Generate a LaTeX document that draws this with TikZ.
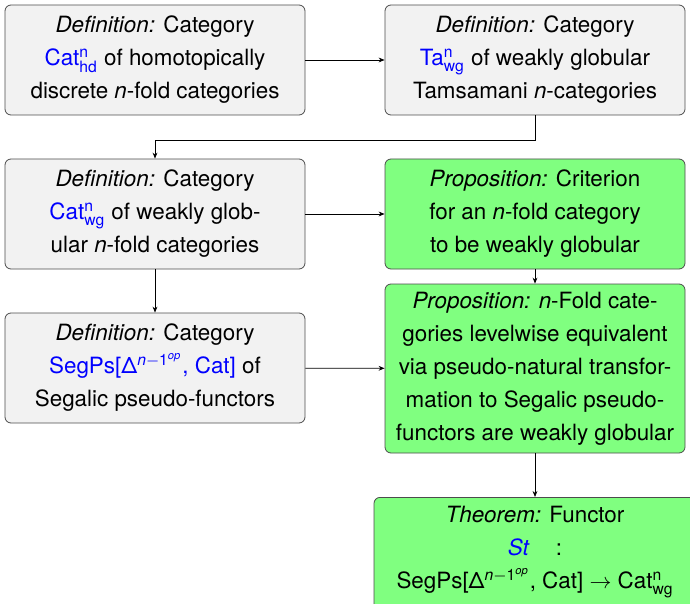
\documentclass[tikz,border=0pt]{standalone}
\usepackage{amsmath}
\usepackage{fontspec}
\setmainfont{TeX Gyre Heros}
\usepackage{tikz}
\usetikzlibrary{arrows.meta}

\newcommand{\catn}[1]{Cat$^{\text{n}}_{\text{#1}}$}
\newcommand{\segps}{SegPs[Δ$^{\text{\itshape n}-\text{1}^{\text{\itshape op}}}$, Cat]}

\begin{document}
\begin{tikzpicture}[x=0.5pt, y=-0.5pt,
    >={Stealth[length=3pt, width=2.4pt]},
    defbox/.style={draw=black!70, fill=black!5, rounded corners=3pt,
        minimum width=150pt, minimum height=55pt, inner sep=0pt,
        align=center, font=\fontsize{11.2}{16.5}\selectfont},
    propbox/.style={defbox, fill=green!50}]

    % Marco
    \useasboundingbox (0,0) rectangle (690,604);

    % Definiciones
    \node[defbox] (hd) at (155,60)
        {\textit{Definition:} Category\\
         \textcolor{blue}{\catn{hd}} of homotopically\\
         discrete \textit{n}-fold categories};
    \node[defbox] (ta) at (535,60)
        {\textit{Definition:} Category\\
         \textcolor{blue}{Ta$^{\text{n}}_{\text{wg}}$} of weakly globular\\
         Tamsamani \textit{n}-categories};
    \node[defbox] (wg) at (155,214)
        {\textit{Definition:} Category\\
         \textcolor{blue}{\catn{wg}} of weakly glob-\\
         ular \textit{n}-fold categories};
    \node[defbox] (seg) at (155,368)
        {\textit{Definition:} Category\\
         \textcolor{blue}{\segps} of\\
         Segalic pseudo-functors};

    % Proposiciones y teorema
    \node[propbox] (crit) at (535,214)
        {\textit{Proposition:} Criterion\\
         for an \textit{n}-fold category\\
         to be weakly globular};
    \node[propbox, minimum height=84.5pt] (lev) at (535,368.5)
        {\textit{Proposition:} \textit{n}-Fold cate-\\
         gories levelwise equivalent\\
         via pseudo-natural transfor-\\
         mation to Segalic pseudo-\\
         functors are weakly globular};
    \node[propbox, minimum width=161pt, minimum height=20pt,
          inner ysep=4.5pt, anchor=north] (st) at (535,497)
        {\textit{Theorem:} Functor\\
         \textcolor{blue}{\textit{St}}\hspace{13pt}:\\
         \segps{} $\rightarrow$ \catn{wg}\\[12pt]};

    % Flechas
    \draw[->] (hd) -- (ta);
    \draw[->] (ta.south) -- ++(0,25) -| (wg.north);
    \draw[->] (wg) -- (crit);
    \draw[->] (crit) -- (lev);
    \draw[->] (wg) -- (seg);
    \draw[->] (seg) -- (lev);
    \draw[->] (lev) -- (st);
\end{tikzpicture}
\end{document}
